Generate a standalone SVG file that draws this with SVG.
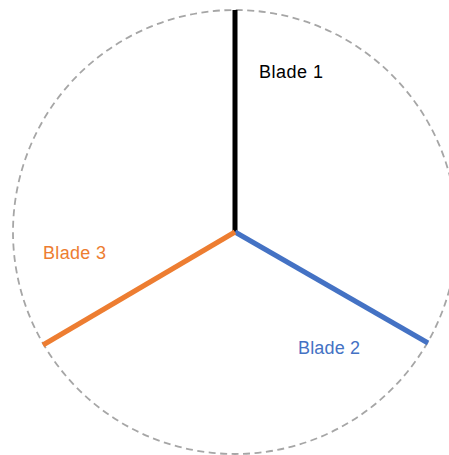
<svg xmlns="http://www.w3.org/2000/svg" width="449" height="455" viewBox="0 0 449 455">
<style>
.lbl{font-family:"Liberation Sans",Arial,sans-serif;font-size:18px}
.blade{stroke-width:5;fill:none;stroke-linecap:butt}
</style>
<rect width="449" height="455" fill="#fff"/>
<g id="rotor">
<circle cx="235" cy="232" r="222" fill="none" stroke="#A6A6A6" stroke-width="1.8" stroke-dasharray="7 4.5"/>
</g>
<g id="connectors">
<line class="blade" x1="235" y1="10" x2="235" y2="232" stroke="#000"/>
<line class="blade" x1="235" y1="232" x2="428" y2="343" stroke="#4472C4"/>
<line class="blade" x1="235" y1="232" x2="43" y2="345" stroke="#ED7D31"/>
</g>
<g id="blade1"><text class="lbl" x="259" y="78" fill="#000" textLength="64">Blade 1</text></g>
<g id="blade2"><text class="lbl" x="298" y="354" fill="#4472C4" textLength="62">Blade 2</text></g>
<g id="blade3"><text class="lbl" x="43" y="259" fill="#ED7D31" textLength="63">Blade 3</text></g>
</svg>
